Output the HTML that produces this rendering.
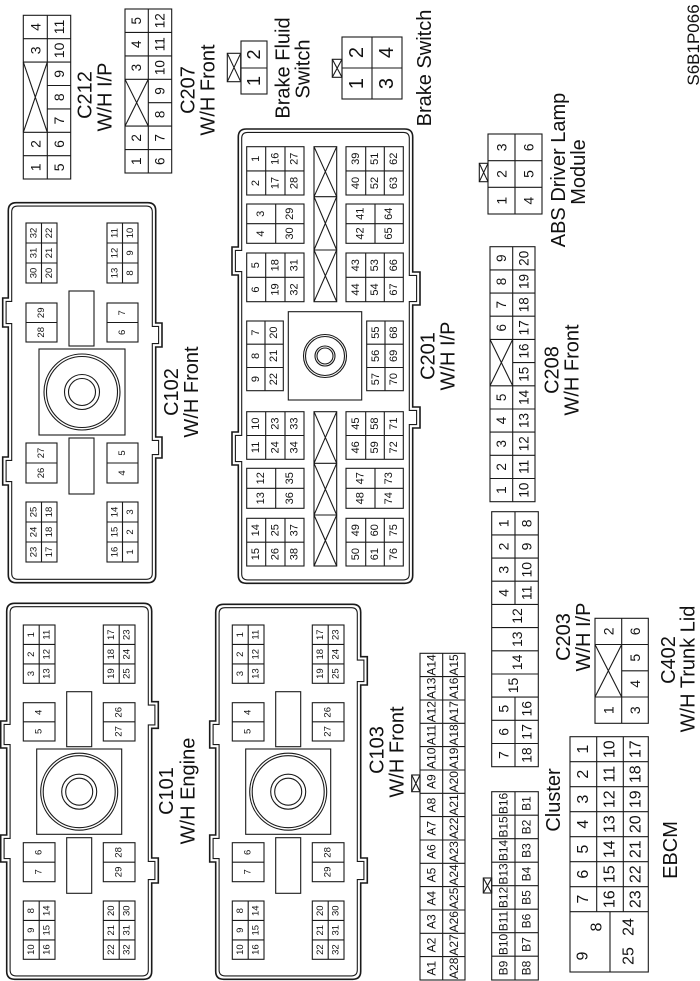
<!DOCTYPE html>
<html><head><meta charset="utf-8">
<style>
body{margin:0;background:#fff}
svg{display:block}
.l{fill:none;stroke:#1a1a1a;stroke-width:1.1}
.o{fill:none;stroke:#1a1a1a;stroke-width:1.6}
text{font-family:"Liberation Sans",Arial,sans-serif;text-anchor:middle;dominant-baseline:central;fill:#111}
.a{font-size:9.5px}.b{font-size:11px}.c{font-size:12px}.d{font-size:13.5px}.h{font-size:14px}.e{font-size:16px}.f{font-size:18px}.g{font-size:20px}
</style></head><body>
<svg width="700" height="981" viewBox="0 0 700 981" xmlns="http://www.w3.org/2000/svg">
<rect width="700" height="981" fill="#fff"/>

<!-- C212 -->
<rect class="l" x="23.3" y="15.3" width="47.4" height="163.7"/>
<path class="l" d="M47.3 15.3V179M23.3 38.7H70.7M23.3 62.1H70.7M23.3 132.3H70.7M23.3 155.7H70.7M47.3 85.5H70.7M47.3 108.9H70.7M23.3 62.1L47.3 132.3M47.3 62.1L23.3 132.3"/>
<!-- C207 -->
<rect class="l" x="125" y="9" width="46.7" height="164"/>
<path class="l" d="M148.3 9V173M125 32.4H171.7M125 55.9H171.7M125 79.3H171.7M125 126.1H171.7M125 149.6H171.7M148.3 102.7H171.7M125 79.3L148.3 126.1M148.3 79.3L125 126.1"/>
<!-- Brake Fluid Switch -->
<rect class="l" x="241" y="41" width="26" height="53"/>
<path class="l" d="M241 68H267"/>
<rect class="l" x="227.3" y="53.3" width="13.4" height="28.4"/>
<path class="l" d="M227.3 53.3L240.7 81.7M240.7 53.3L227.3 81.7"/>
<!-- Brake Switch -->
<rect class="l" x="342" y="37" width="60" height="62"/>
<path class="l" d="M372 37V99M342 68H402"/>
<rect class="l" x="332.3" y="59.3" width="9.7" height="18"/>
<path class="l" d="M332.3 59.3L342 77.3M342 59.3L332.3 77.3"/>
<!-- ABS -->
<rect class="l" x="488" y="134" width="54" height="80"/>
<path class="l" d="M515 134V214M488 160.7H542M488 187.3H542"/>
<rect class="l" x="479.3" y="163.3" width="8.7" height="18.4"/>
<path class="l" d="M479.3 163.3L488 181.7M488 163.3L479.3 181.7"/>

<!-- C102 -->
<path class="o" d="M16.3 202.7H147.7Q155.7 202.7 155.7 210.7V323H162V347H155.7V437H162V458H155.7V574.7Q155.7 582.7 147.7 582.7H16.3Q8.3 582.7 8.3 574.7V485H2.7V457H8.3V327H2.7V298H8.3V210.7Q8.3 202.7 16.3 202.7Z"/>
<path class="l" d="M17.7 206.1H146.3Q152.3 206.1 152.3 212.1V326.4H158.6V343.6H152.3V440.4H158.6V454.6H152.3V573.3Q152.3 579.3 146.3 579.3H17.7Q11.7 579.3 11.7 573.3V481.6H6.1V460.4H11.7V323.6H6.1V301.4H11.7V212.1Q11.7 206.1 17.7 206.1Z"/>
<rect class="l" x="26" y="223" width="31" height="60"/>
<path class="l" d="M41.5 223V283M26 243H57M26 263H57"/>
<rect class="l" x="107" y="223" width="31" height="60"/>
<path class="l" d="M122.5 223V283M107 243H138M107 263H138"/>
<rect class="l" x="26" y="303" width="31" height="39"/>
<path class="l" d="M26 322.5H57"/>
<rect class="l" x="107" y="303" width="31" height="39"/>
<path class="l" d="M107 322.5H138"/>
<rect class="l" x="69" y="291" width="25" height="55"/>
<rect class="l" x="39" y="349" width="86" height="86"/>
<circle class="l" cx="82" cy="392" r="38"/>
<circle class="l" cx="82" cy="392" r="35.5"/>
<circle class="l" cx="82" cy="392" r="17.5"/>
<circle class="l" cx="82" cy="392" r="13.5"/>
<rect class="l" x="26" y="443" width="31" height="40"/>
<path class="l" d="M26 463H57"/>
<rect class="l" x="69" y="438" width="25" height="56"/>
<rect class="l" x="107" y="443" width="31" height="40"/>
<path class="l" d="M107 463H138"/>
<rect class="l" x="26" y="502" width="31" height="60"/>
<path class="l" d="M41.5 502V562M26 522H57M26 542H57"/>
<rect class="l" x="107" y="502" width="31" height="60"/>
<path class="l" d="M122.5 502V562M107 522H138M107 542H138"/>

<!-- C201 -->
<path class="o" d="M246.3 129H404.7Q412.7 129 412.7 137V272H420V305H412.7V407H420V428H412.7V575.3Q412.7 583.3 404.7 583.3H246.3Q238.3 583.3 238.3 575.3V465H232V432H238.3V275H232V247H238.3V137Q238.3 129 246.3 129Z"/>
<path class="l" d="M247.7 132.4H403.3Q409.3 132.4 409.3 138.4V275.4H416.6V301.6H409.3V410.4H416.6V424.6H409.3V573.9Q409.3 579.9 403.3 579.9H247.7Q241.7 579.9 241.7 573.9V461.6H235.4V435.4H241.7V271.6H235.4V250.4H241.7V138.4Q241.7 132.4 247.7 132.4Z"/>
<rect class="l" x="246.7" y="146.7" width="57.3" height="48.3"/>
<path class="l" d="M265.7 146.7V195M285 146.7V195M246.7 170.9H304"/>
<rect class="l" x="246.7" y="204" width="57.3" height="39.3"/>
<path class="l" d="M275.7 204V243.3M246.7 223.7H304"/>
<rect class="l" x="246.7" y="253" width="57.3" height="48.7"/>
<path class="l" d="M265.7 253V301.7M285 253V301.7M246.7 277.3H304"/>
<rect class="l" x="246.7" y="321" width="36.6" height="69.7"/>
<path class="l" d="M265 321V390.7M246.7 344.2H283.3M246.7 367.5H283.3"/>
<rect class="l" x="246.7" y="411.7" width="57.3" height="47.6"/>
<path class="l" d="M265.7 411.7V459.3M285 411.7V459.3M246.7 435.5H304"/>
<rect class="l" x="246.7" y="468.3" width="57.3" height="40"/>
<path class="l" d="M275.7 468.3V508.3M246.7 488.3H304"/>
<rect class="l" x="246.7" y="518.3" width="57.3" height="47.7"/>
<path class="l" d="M265.7 518.3V566M285 518.3V566M246.7 542.2H304"/>
<rect class="l" x="346" y="146.7" width="57.3" height="48.3"/>
<path class="l" d="M365.7 146.7V195M384.3 146.7V195M346 170.9H403.3"/>
<rect class="l" x="346" y="204" width="57.3" height="39.3"/>
<path class="l" d="M375 204V243.3M346 223.7H403.3"/>
<rect class="l" x="346" y="253" width="57.3" height="48.7"/>
<path class="l" d="M365.7 253V301.7M384.3 253V301.7M346 277.3H403.3"/>
<rect class="l" x="366.7" y="321" width="36.6" height="69.7"/>
<path class="l" d="M385 321V390.7M366.7 344.2H403.3M366.7 367.5H403.3"/>
<rect class="l" x="346" y="411.7" width="57.3" height="47.6"/>
<path class="l" d="M365.7 411.7V459.3M384.3 411.7V459.3M346 435.5H403.3"/>
<rect class="l" x="346" y="468.3" width="57.3" height="40"/>
<path class="l" d="M375 468.3V508.3M346 488.3H403.3"/>
<rect class="l" x="346" y="518.3" width="57.3" height="47.7"/>
<path class="l" d="M365.7 518.3V566M384.3 518.3V566M346 542.2H403.3"/>
<rect class="l" x="314" y="146.7" width="22.7" height="155"/>
<rect class="l" x="314" y="411.7" width="22.7" height="154.3"/>
<path class="l" d="M314 196.7H336.7M314 250H336.7M314 463.3H336.7M314 515H336.7M314 146.7L336.7 196.7M336.7 146.7L314 196.7M314 196.7L336.7 250M336.7 196.7L314 250M314 250L336.7 301.7M336.7 250L314 301.7M314 411.7L336.7 463.3M336.7 411.7L314 463.3M314 463.3L336.7 515M336.7 463.3L314 515M314 515L336.7 566M336.7 515L314 566"/>
<rect class="l" x="288.3" y="311.7" width="73.4" height="88.3"/>
<circle class="l" cx="325" cy="356" r="21.5"/>
<circle class="l" cx="325" cy="356" r="19.5"/>
<circle class="l" cx="325" cy="356" r="10"/>
<circle class="l" cx="325" cy="356" r="8"/>

<!-- C101 -->
<path class="o" d="M14.7 603.3H143.7Q151.7 603.3 151.7 611.3V701.7H158.3V728.3H151.7V858H158.3V883H151.7V971.3Q151.7 979.3 143.7 979.3H14.7Q6.7 979.3 6.7 971.3V862H0.7V835H6.7V748H0.7V721H6.7V611.3Q6.7 603.3 14.7 603.3Z"/>
<path class="l" d="M16.1 606.7H142.3Q148.3 606.7 148.3 612.7V705.1H154.9V724.9H148.3V861.4H154.9V879.6H148.3V969.9Q148.3 975.9 142.3 975.9H16.1Q10.1 975.9 10.1 969.9V858.6H4.1V838.4H10.1V744.6H4.1V724.4H10.1V612.7Q10.1 606.7 16.1 606.7Z"/>
<g id="c101in">
<rect class="l" x="23.3" y="625" width="31.7" height="58.3"/>
<path class="l" d="M39.2 625V683.3M23.3 644.4H55M23.3 663.9H55"/>
<rect class="l" x="103.3" y="625" width="31.7" height="58.3"/>
<path class="l" d="M119.2 625V683.3M103.3 644.4H135M103.3 663.9H135"/>
<rect class="l" x="23.3" y="702.7" width="31.7" height="38.3"/>
<path class="l" d="M23.3 721.8H55"/>
<rect class="l" x="66.7" y="691.7" width="25" height="55"/>
<rect class="l" x="103.3" y="702.7" width="31.7" height="38.3"/>
<path class="l" d="M103.3 721.8H135"/>
<rect class="l" x="36.7" y="749" width="85" height="85.3"/>
<circle class="l" cx="79.2" cy="791.7" r="38.5"/>
<circle class="l" cx="79.2" cy="791.7" r="36"/>
<circle class="l" cx="79.2" cy="791.7" r="17.5"/>
<circle class="l" cx="79.2" cy="791.7" r="13.5"/>
<rect class="l" x="23.3" y="842.7" width="31.7" height="39"/>
<path class="l" d="M23.3 862.2H55"/>
<rect class="l" x="66.7" y="837.7" width="25" height="55.6"/>
<rect class="l" x="103.3" y="842.7" width="31.7" height="39"/>
<path class="l" d="M103.3 862.2H135"/>
<rect class="l" x="23.3" y="901" width="31.7" height="58.3"/>
<path class="l" d="M39.2 901V959.3M23.3 920.4H55M23.3 939.9H55"/>
<rect class="l" x="103.3" y="901" width="31.7" height="58.3"/>
<path class="l" d="M119.2 901V959.3M103.3 920.4H135M103.3 939.9H135"/>
</g>
<g transform="rotate(-90)" class="a">
<text x="-634.7" y="31.3">1</text><text x="-654.2" y="31.3">2</text><text x="-673.6" y="31.3">3</text>
<text x="-634.7" y="47.1">11</text><text x="-654.2" y="47.1">12</text><text x="-673.6" y="47.1">13</text>
<text x="-634.7" y="111.3">17</text><text x="-654.2" y="111.3">18</text><text x="-673.6" y="111.3">19</text>
<text x="-634.7" y="127.1">23</text><text x="-654.2" y="127.1">24</text><text x="-673.6" y="127.1">25</text>
<text x="-712.3" y="39.2">4</text><text x="-731.4" y="39.2">5</text>
<text x="-712.3" y="119.2">26</text><text x="-731.4" y="119.2">27</text>
<text x="-852.4" y="39.2">6</text><text x="-871.9" y="39.2">7</text>
<text x="-852.4" y="119.2">28</text><text x="-871.9" y="119.2">29</text>
<text x="-910.7" y="31.3">8</text><text x="-930.2" y="31.3">9</text><text x="-949.6" y="31.3">10</text>
<text x="-910.7" y="47.1">14</text><text x="-930.2" y="47.1">15</text><text x="-949.6" y="47.1">16</text>
<text x="-910.7" y="111.3">20</text><text x="-930.2" y="111.3">21</text><text x="-949.6" y="111.3">22</text>
<text x="-910.7" y="127.1">30</text><text x="-930.2" y="127.1">31</text><text x="-949.6" y="127.1">32</text>
</g>

<!-- C103 -->
<g transform="translate(209,0)">
<path class="o" d="M14.7 604.3H143.7Q151.7 604.3 151.7 612.3V656.7H158.3V685H151.7V858H158.3V883H151.7V971.3Q151.7 979.3 143.7 979.3H14.7Q6.7 979.3 6.7 971.3V862H0.7V835H6.7V748H0.7V721H6.7V612.3Q6.7 604.3 14.7 604.3Z"/>
<path class="l" d="M16.1 607.7H142.3Q148.3 607.7 148.3 613.7V660.1H154.9V681.6H148.3V861.4H154.9V879.6H148.3V969.9Q148.3 975.9 142.3 975.9H16.1Q10.1 975.9 10.1 969.9V858.6H4.1V838.4H10.1V744.6H4.1V724.4H10.1V613.7Q10.1 607.7 16.1 607.7Z"/>
<use href="#c101in"/>
<g transform="rotate(-90)" class="a">
<text x="-634.7" y="31.3">1</text><text x="-654.2" y="31.3">2</text><text x="-673.6" y="31.3">3</text>
<text x="-634.7" y="47.1">11</text><text x="-654.2" y="47.1">12</text><text x="-673.6" y="47.1">13</text>
<text x="-634.7" y="111.3">17</text><text x="-654.2" y="111.3">18</text><text x="-673.6" y="111.3">19</text>
<text x="-634.7" y="127.1">23</text><text x="-654.2" y="127.1">24</text><text x="-673.6" y="127.1">25</text>
<text x="-712.3" y="39.2">4</text><text x="-731.4" y="39.2">5</text>
<text x="-712.3" y="119.2">26</text><text x="-731.4" y="119.2">27</text>
<text x="-852.4" y="39.2">6</text><text x="-871.9" y="39.2">7</text>
<text x="-852.4" y="119.2">28</text><text x="-871.9" y="119.2">29</text>
<text x="-910.7" y="31.3">8</text><text x="-930.2" y="31.3">9</text><text x="-949.6" y="31.3">10</text>
<text x="-910.7" y="47.1">14</text><text x="-930.2" y="47.1">15</text><text x="-949.6" y="47.1">16</text>
<text x="-910.7" y="111.3">20</text><text x="-930.2" y="111.3">21</text><text x="-949.6" y="111.3">22</text>
<text x="-910.7" y="127.1">30</text><text x="-930.2" y="127.1">31</text><text x="-949.6" y="127.1">32</text>
</g>
</g>

<!-- A rows -->
<rect class="l" x="420" y="653.3" width="45" height="326.7"/>
<path class="l" d="M442.7 653.3V980M420 676.6H465M420 700H465M420 723.3H465M420 746.6H465M420 770H465M420 793.3H465M420 816.6H465M420 840H465M420 863.3H465M420 886.6H465M420 910H465M420 933.3H465M420 956.6H465"/>
<rect class="l" x="411.7" y="775" width="8.3" height="16.7"/>
<path class="l" d="M411.7 775L420 791.7M420 775L411.7 791.7"/>
<!-- B rows -->
<rect class="l" x="491.7" y="791.7" width="46.6" height="188.3"/>
<path class="l" d="M515 791.7V980M491.7 815.2H538.3M491.7 838.7H538.3M491.7 862.2H538.3M491.7 885.7H538.3M491.7 909.2H538.3M491.7 932.7H538.3M491.7 956.2H538.3"/>
<rect class="l" x="483.3" y="878" width="8.4" height="15"/>
<path class="l" d="M483.3 878L491.7 893M491.7 878L483.3 893"/>
<!-- C203 -->
<rect class="l" x="491.7" y="511.7" width="46.6" height="255"/>
<path class="l" d="M515 511.7V604.4M515 697.1V766.7M491.7 534.9H538.3M491.7 558.1H538.3M491.7 581.2H538.3M491.7 604.4H538.3M491.7 627.6H538.3M491.7 650.8H538.3M491.7 674H538.3M491.7 697.1H538.3M491.7 720.3H538.3M491.7 743.5H538.3"/>
<!-- C208 -->
<rect class="l" x="490" y="246.7" width="45" height="255"/>
<path class="l" d="M512.7 246.7V501.7M490 269.9H535M490 293.1H535M490 316.2H535M490 339.4H535M490 385.8H535M490 409H535M490 432.1H535M490 455.3H535M490 478.5H535M512.7 362.6H535M490 339.4L512.7 385.8M512.7 339.4L490 385.8"/>
<!-- C402 -->
<rect class="l" x="595" y="618.3" width="53.3" height="105"/>
<path class="l" d="M621.7 618.3V723.3M595 644.5H648.3M595 697H648.3M621.7 670.8H648.3M595 644.5L621.7 697M621.7 644.5L595 697"/>
<!-- Cluster -->
<rect class="l" x="570" y="736.7" width="78.3" height="235.3"/>
<path class="l" d="M596.7 736.7V911.7M623.3 736.7V911.7M570 761.7H648.3M570 786.7H648.3M570 811.7H648.3M570 836.7H648.3M570 861.7H648.3M570 886.7H648.3M570 911.7H648.3M610 911.7V972"/>

<!-- pin numbers -->
<g transform="rotate(-90)">
<g class="h">
<text x="-27" y="35.3">4</text><text x="-50.4" y="35.3">3</text><text x="-144" y="35.3">2</text><text x="-167.4" y="35.3">1</text>
<text x="-27" y="59">11</text><text x="-50.4" y="59">10</text><text x="-73.8" y="59">9</text><text x="-97.2" y="59">8</text><text x="-120.6" y="59">7</text><text x="-144" y="59">6</text><text x="-167.4" y="59">5</text>
<text x="-147.3" y="501.5">3</text><text x="-174" y="501.5">2</text><text x="-200.7" y="501.5">1</text>
<text x="-147.3" y="528.5">6</text><text x="-174" y="528.5">5</text><text x="-200.7" y="528.5">4</text>
<text x="-523.3" y="503.3">1</text><text x="-546.5" y="503.3">2</text><text x="-569.7" y="503.3">3</text><text x="-592.8" y="503.3">4</text><text x="-708.7" y="503.3">5</text><text x="-731.9" y="503.3">6</text><text x="-755.1" y="503.3">7</text>
<text x="-523.3" y="526.7">8</text><text x="-546.5" y="526.7">9</text><text x="-569.7" y="526.7">10</text><text x="-592.8" y="526.7">11</text><text x="-708.7" y="526.7">16</text><text x="-731.9" y="526.7">17</text><text x="-755.1" y="526.7">18</text>
<text x="-616" y="517">12</text><text x="-639.2" y="517">13</text><text x="-662.4" y="517">14</text><text x="-685.5" y="513">15</text>
<text x="-631.4" y="608.3">2</text><text x="-710.2" y="608.3">1</text>
<text x="-631.4" y="635">6</text><text x="-657.7" y="635">5</text><text x="-683.9" y="635">4</text><text x="-710.2" y="635">3</text>
</g>
<g class="d">
<text x="-20.7" y="136.7">5</text><text x="-44.2" y="136.7">4</text><text x="-67.6" y="136.7">3</text><text x="-137.9" y="136.7">2</text><text x="-161.3" y="136.7">1</text>
<text x="-20.7" y="160">12</text><text x="-44.2" y="160">11</text><text x="-67.6" y="160">10</text><text x="-91" y="160">9</text><text x="-114.4" y="160">8</text><text x="-137.9" y="160">7</text><text x="-161.3" y="160">6</text>
<text x="-258.3" y="501.3">9</text><text x="-281.5" y="501.3">8</text><text x="-304.7" y="501.3">7</text><text x="-327.8" y="501.3">6</text><text x="-397.4" y="501.3">5</text><text x="-420.5" y="501.3">4</text><text x="-443.7" y="501.3">3</text><text x="-466.9" y="501.3">2</text><text x="-490.1" y="501.3">1</text>
<text x="-258.3" y="523.8">20</text><text x="-281.5" y="523.8">19</text><text x="-304.7" y="523.8">18</text><text x="-327.8" y="523.8">17</text><text x="-351" y="523.8">16</text><text x="-374.2" y="523.8">15</text><text x="-397.4" y="523.8">14</text><text x="-420.5" y="523.8">13</text><text x="-443.7" y="523.8">12</text><text x="-466.9" y="523.8">11</text><text x="-490.1" y="523.8">10</text>
</g>
<g class="f"><text x="-54.5" y="254">2</text><text x="-81" y="254">1</text></g>
<g class="g"><text x="-52.5" y="357">2</text><text x="-83.5" y="357">1</text><text x="-52.5" y="387">4</text><text x="-83.5" y="387">3</text></g>
<g class="b">
<text x="-158.8" y="256.2">1</text><text x="-158.8" y="275.3">16</text><text x="-158.8" y="294.5">27</text>
<text x="-183" y="256.2">2</text><text x="-183" y="275.3">17</text><text x="-183" y="294.5">28</text>
<text x="-213.8" y="261.2">3</text><text x="-213.8" y="289.8">29</text><text x="-233.5" y="261.2">4</text><text x="-233.5" y="289.8">30</text>
<text x="-265.2" y="256.2">5</text><text x="-265.2" y="275.3">18</text><text x="-265.2" y="294.5">31</text>
<text x="-289.5" y="256.2">6</text><text x="-289.5" y="275.3">19</text><text x="-289.5" y="294.5">32</text>
<text x="-332.6" y="255.8">7</text><text x="-332.6" y="274.2">20</text><text x="-355.9" y="255.8">8</text><text x="-355.9" y="274.2">21</text><text x="-379.1" y="255.8">9</text><text x="-379.1" y="274.2">22</text>
<text x="-423.6" y="256.2">10</text><text x="-423.6" y="275.3">23</text><text x="-423.6" y="294.5">33</text>
<text x="-447.4" y="256.2">11</text><text x="-447.4" y="275.3">24</text><text x="-447.4" y="294.5">34</text>
<text x="-478.3" y="261.2">12</text><text x="-478.3" y="289.8">35</text><text x="-498.3" y="261.2">13</text><text x="-498.3" y="289.8">36</text>
<text x="-530.2" y="256.2">14</text><text x="-530.2" y="275.3">25</text><text x="-530.2" y="294.5">37</text>
<text x="-554.1" y="256.2">15</text><text x="-554.1" y="275.3">26</text><text x="-554.1" y="294.5">38</text>
<text x="-158.8" y="355.8">39</text><text x="-158.8" y="375">51</text><text x="-158.8" y="393.8">62</text>
<text x="-183" y="355.8">40</text><text x="-183" y="375">52</text><text x="-183" y="393.8">63</text>
<text x="-213.8" y="360.5">41</text><text x="-213.8" y="389.2">64</text><text x="-233.5" y="360.5">42</text><text x="-233.5" y="389.2">65</text>
<text x="-265.2" y="355.8">43</text><text x="-265.2" y="375">53</text><text x="-265.2" y="393.8">66</text>
<text x="-289.5" y="355.8">44</text><text x="-289.5" y="375">54</text><text x="-289.5" y="393.8">67</text>
<text x="-332.6" y="375.8">55</text><text x="-332.6" y="394.2">68</text><text x="-355.9" y="375.8">56</text><text x="-355.9" y="394.2">69</text><text x="-379.1" y="375.8">57</text><text x="-379.1" y="394.2">70</text>
<text x="-423.6" y="355.8">45</text><text x="-423.6" y="375">58</text><text x="-423.6" y="393.8">71</text>
<text x="-447.4" y="355.8">46</text><text x="-447.4" y="375">59</text><text x="-447.4" y="393.8">72</text>
<text x="-478.3" y="360.5">47</text><text x="-478.3" y="389.2">73</text><text x="-498.3" y="360.5">48</text><text x="-498.3" y="389.2">74</text>
<text x="-530.2" y="355.8">49</text><text x="-530.2" y="375">60</text><text x="-530.2" y="393.8">75</text>
<text x="-554.1" y="355.8">50</text><text x="-554.1" y="375">61</text><text x="-554.1" y="393.8">76</text>
</g>
<g class="a">
<text x="-233" y="33.8">32</text><text x="-253" y="33.8">31</text><text x="-273" y="33.8">30</text>
<text x="-233" y="49.3">22</text><text x="-253" y="49.3">21</text><text x="-273" y="49.3">20</text>
<text x="-233" y="114.8">11</text><text x="-253" y="114.8">12</text><text x="-273" y="114.8">13</text>
<text x="-233" y="130.3">10</text><text x="-253" y="130.3">9</text><text x="-273" y="130.3">8</text>
<text x="-312.8" y="41.5">29</text><text x="-332.3" y="41.5">28</text>
<text x="-312.8" y="122.5">7</text><text x="-332.3" y="122.5">6</text>
<text x="-453" y="41.5">27</text><text x="-473" y="41.5">26</text>
<text x="-453" y="122.5">5</text><text x="-473" y="122.5">4</text>
<text x="-512" y="33.8">25</text><text x="-532" y="33.8">24</text><text x="-552" y="33.8">23</text>
<text x="-512" y="49.3">18</text><text x="-532" y="49.3">18</text><text x="-552" y="49.3">17</text>
<text x="-512" y="114.8">14</text><text x="-532" y="114.8">15</text><text x="-552" y="114.8">16</text>
<text x="-512" y="130.3">3</text><text x="-532" y="130.3">2</text><text x="-552" y="130.3">1</text>
</g>
<g class="c">
<text x="-665" y="431.3">A14</text><text x="-688.3" y="431.3">A13</text><text x="-711.7" y="431.3">A12</text><text x="-735" y="431.3">A11</text><text x="-758.3" y="431.3">A10</text><text x="-781.7" y="431.3">A9</text><text x="-805" y="431.3">A8</text><text x="-828.3" y="431.3">A7</text><text x="-851.7" y="431.3">A6</text><text x="-875" y="431.3">A5</text><text x="-898.3" y="431.3">A4</text><text x="-921.7" y="431.3">A3</text><text x="-945" y="431.3">A2</text><text x="-968.3" y="431.3">A1</text>
<text x="-665" y="453.8">A15</text><text x="-688.3" y="453.8">A16</text><text x="-711.7" y="453.8">A17</text><text x="-735" y="453.8">A18</text><text x="-758.3" y="453.8">A19</text><text x="-781.7" y="453.8">A20</text><text x="-805" y="453.8">A21</text><text x="-828.3" y="453.8">A22</text><text x="-851.7" y="453.8">A23</text><text x="-875" y="453.8">A24</text><text x="-898.3" y="453.8">A25</text><text x="-921.7" y="453.8">A26</text><text x="-945" y="453.8">A27</text><text x="-968.3" y="453.8">A28</text>
<text x="-803.5" y="503.3">B16</text><text x="-827" y="503.3">B15</text><text x="-850.5" y="503.3">B14</text><text x="-874" y="503.3">B13</text><text x="-897.5" y="503.3">B12</text><text x="-921" y="503.3">B11</text><text x="-944.5" y="503.3">B10</text><text x="-968" y="503.3">B9</text>
<text x="-803.5" y="526.7">B1</text><text x="-827" y="526.7">B2</text><text x="-850.5" y="526.7">B3</text><text x="-874" y="526.7">B4</text><text x="-897.5" y="526.7">B5</text><text x="-921" y="526.7">B6</text><text x="-944.5" y="526.7">B7</text><text x="-968" y="526.7">B8</text>
</g>
<g class="e">
<text x="-749.2" y="583.3">1</text><text x="-774.2" y="583.3">2</text><text x="-799.2" y="583.3">3</text><text x="-824.2" y="583.3">4</text><text x="-849.2" y="583.3">5</text><text x="-874.2" y="583.3">6</text><text x="-899.2" y="583.3">7</text>
<text x="-749.2" y="610">10</text><text x="-774.2" y="610">11</text><text x="-799.2" y="610">12</text><text x="-824.2" y="610">13</text><text x="-849.2" y="610">14</text><text x="-874.2" y="610">15</text><text x="-899.2" y="610">16</text>
<text x="-749.2" y="635.8">17</text><text x="-774.2" y="635.8">18</text><text x="-799.2" y="635.8">19</text><text x="-824.2" y="635.8">20</text><text x="-849.2" y="635.8">21</text><text x="-874.2" y="635.8">22</text><text x="-899.2" y="635.8">23</text>
<text x="-927" y="597">8</text><text x="-956" y="583">9</text><text x="-927" y="629">24</text><text x="-956" y="629">25</text>
</g>
<!-- labels -->
<g class="g">
<text x="-95" y="85.5">C212</text><text x="-97" y="105.5">W/H I/P</text>
<text x="-90" y="188.5">C207</text><text x="-90" y="208.5">W/H Front</text>
<text x="-68" y="283.5">Brake Fluid</text><text x="-69" y="303.5">Switch</text>
<text x="-68" y="425">Brake Switch</text>
<text x="-170" y="559">ABS Driver Lamp</text><text x="-172" y="579">Module</text>
<text x="-392" y="172">C102</text><text x="-392" y="192">W/H Front</text>
<text x="-356" y="428.5">C201</text><text x="-356" y="448.5">W/H I/P</text>
<text x="-370" y="552.5">C208</text><text x="-370" y="572.5">W/H Front</text>
<text x="-791" y="167">C101</text><text x="-791" y="188.5">W/H Engine</text>
<text x="-750" y="377.5">C103</text><text x="-752" y="397.5">W/H Front</text>
<text x="-637" y="564">C203</text><text x="-637" y="584">W/H I/P</text>
<text x="-660" y="669">C402</text><text x="-669" y="688.5">W/H Trunk Lid</text>
<text x="-800" y="554">Cluster</text>
<text x="-850" y="671">EBCM</text>
</g>
<text x="-45" y="693.5" style="font-size:17px">S6B1P066</text>
</g>
</svg>
</body></html>
